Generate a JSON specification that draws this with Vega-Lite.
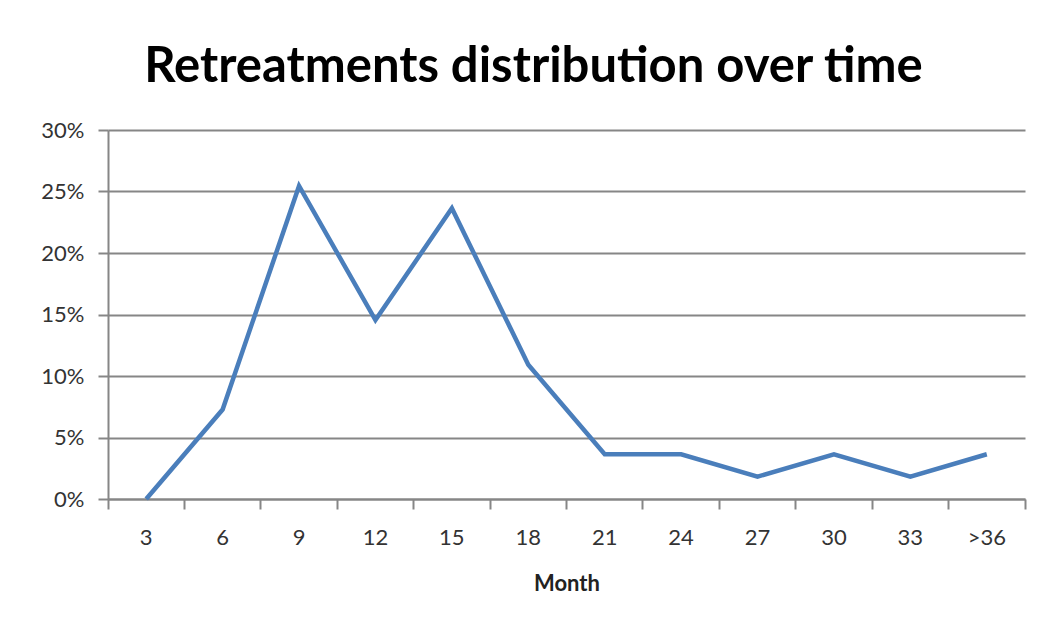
{
  "$schema": "https://vega.github.io/schema/vega-lite/v6.json",
  "autosize": {"type": "none"},
  "width": 917,
  "height": 369,
  "padding": {"left": 108, "top": 130, "right": 33, "bottom": 130},
  "background": "white",
  "config": {"view": {"stroke": null}},
  "title": {
    "text": "Retreatments distribution over time",
    "font": "Lato",
    "fontWeight": "bold",
    "fontSize": 49,
    "color": "#000000",
    "anchor": "middle",
    "dx": -33,
    "offset": 27
  },
  "data": {
    "values": [
      {"month": "3", "share": 0.0},
      {"month": "6", "share": 0.0727},
      {"month": "9", "share": 0.2545},
      {"month": "12", "share": 0.1455},
      {"month": "15", "share": 0.2364},
      {"month": "18", "share": 0.1091},
      {"month": "21", "share": 0.0364},
      {"month": "24", "share": 0.0364},
      {"month": "27", "share": 0.0182},
      {"month": "30", "share": 0.0364},
      {"month": "33", "share": 0.0182},
      {"month": ">36", "share": 0.0364}
    ]
  },
  "mark": {"type": "line", "color": "#4A7EBB", "strokeWidth": 4.5, "strokeJoin": "miter"},
  "encoding": {
    "x": {
      "field": "month",
      "type": "ordinal",
      "sort": null,
      "bandPosition": 0.5,
      "scale": {"type": "band", "paddingInner": 0, "paddingOuter": 0},
      "axis": {
        "title": "Month",
        "titleFont": "Lato",
        "titleFontWeight": "bold",
        "titleFontSize": 22,
        "titleColor": "#222222",
        "titlePadding": 25,
        "labelFont": "Lato",
        "labelFontSize": 22,
        "labelColor": "#333333",
        "labelAngle": 0,
        "labelPadding": 18,
        "bandPosition": 1,
        "tickExtra": true,
        "tickSize": 10,
        "tickColor": "#868686",
        "tickWidth": 2,
        "domainColor": "#868686",
        "domainWidth": 2,
        "grid": false
      }
    },
    "y": {
      "field": "share",
      "type": "quantitative",
      "scale": {"domain": [0, 0.3], "nice": false},
      "axis": {
        "title": null,
        "format": ".0%",
        "values": [0, 0.05, 0.1, 0.15, 0.2, 0.25, 0.3],
        "labelFont": "Lato",
        "labelFontSize": 22,
        "labelColor": "#333333",
        "labelPadding": 14,
        "tickSize": 10,
        "tickColor": "#868686",
        "tickWidth": 2,
        "domainColor": "#868686",
        "domainWidth": 2,
        "grid": true,
        "gridColor": "#868686",
        "gridWidth": 2
      }
    }
  }
}
